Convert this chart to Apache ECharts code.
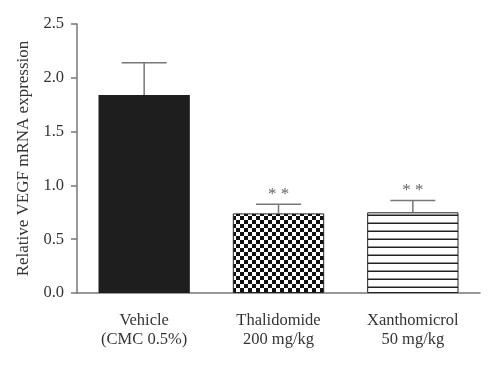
<!DOCTYPE html>
<html><head><meta charset="utf-8">
<script src="https://cdn.jsdelivr.net/npm/echarts@6/dist/echarts.min.js"></script>
<style>html,body{margin:0;padding:0;background:#fff}#c{width:500px;height:367px}</style>
</head><body><div id="c"></div>
<script>
var categories = ['Vehicle\n(CMC 0.5%)', 'Thalidomide\n200 mg/kg', 'Xanthomicrol\n50 mg/kg'];
var means = [1.84, 0.74, 0.75];
var errors = [0.30, 0.085, 0.11];
var significance = ['', '* *', '* *'];
var yTicks = [0, 0.5, 1.0, 1.5, 2.0, 2.5];

function checker() {
  var c = document.createElement('canvas'); c.width = 8; c.height = 8;
  var g = c.getContext('2d');
  g.fillStyle = '#fff'; g.fillRect(0,0,8,8);
  g.fillStyle = '#111'; g.fillRect(0,0,4,4); g.fillRect(4,4,4,4);
  return c;
}
function stripes() {
  var c = document.createElement('canvas'); c.width = 4; c.height = 8;
  var g = c.getContext('2d');
  g.fillStyle = '#fff'; g.fillRect(0,0,4,8);
  g.fillStyle = '#222'; g.fillRect(0,6.5,4,1.5);
  return c;
}
var fills = [
  {color:'#1e1e1e', borderColor:'#1e1e1e', borderWidth:0},
  {color:{image:checker(), repeat:'repeat'}, borderColor:'#222', borderWidth:1},
  {color:{image:stripes(), repeat:'repeat'}, borderColor:'#222', borderWidth:1}
];

var chart = echarts.init(document.getElementById('c'), null, {renderer:'canvas'});
var font = '"Liberation Serif", "DejaVu Serif", serif';
chart.setOption({
  animation:false,
  backgroundColor:'#fff',
  grid:{left:77, right:20, top:24, bottom:74},
  xAxis:{
    type:'category', data:categories,
    axisLine:{lineStyle:{color:'#777', width:1.5}},
    axisTick:{alignWithLabel:true, length:6, lineStyle:{color:'#777', width:1.5}},
    axisLabel:{fontFamily:font, fontSize:16.5, color:'#333', lineHeight:19, margin:18}
  },
  yAxis:{
    type:'value', min:0, max:2.5, interval:0.5,
    name:'Relative VEGF mRNA expression', nameLocation:'middle', nameGap:44,
    nameTextStyle:{fontFamily:font, fontSize:17, color:'#333'},
    axisLine:{show:true, lineStyle:{color:'#777', width:1.5}},
    axisTick:{show:true, length:6, lineStyle:{color:'#777', width:1.5}},
    splitLine:{show:false},
    axisLabel:{fontFamily:font, fontSize:16.5, color:'#333', margin:13,
      formatter:function(v){ return yTicks.indexOf(v) >= 0 ? v.toFixed(1) : ''; }}
  },
  series:[
    {type:'bar', barCategoryGap:'32%',
     data:means.map(function(v,i){ return {value:v, itemStyle:fills[i]}; }),
     z:2},
    {type:'custom', z:3,
     data:means.map(function(v,i){ return [i, v, errors[i]]; }),
     renderItem:function(params, api){
       var i = api.value(0), m = api.value(1), e = api.value(2);
       var base = api.coord([i, m]);
       var top = api.coord([i, m + e]);
       var half = 22.5;
       var children = [
         {type:'line', shape:{x1:base[0], y1:base[1], x2:top[0], y2:top[1]}, style:{stroke:'#777', lineWidth:1.5}},
         {type:'line', shape:{x1:top[0]-half, y1:top[1], x2:top[0]+half, y2:top[1]}, style:{stroke:'#777', lineWidth:1.5}}
       ];
       var s = significance[params.dataIndex];
       if (s) children.push({type:'text', style:{text:s, x:top[0], y:top[1]-1, align:'center', verticalAlign:'bottom', fill:'#666', font:'17px ' + font}});
       return {type:'group', children:children};
     }}
  ]
});
</script></body></html>
